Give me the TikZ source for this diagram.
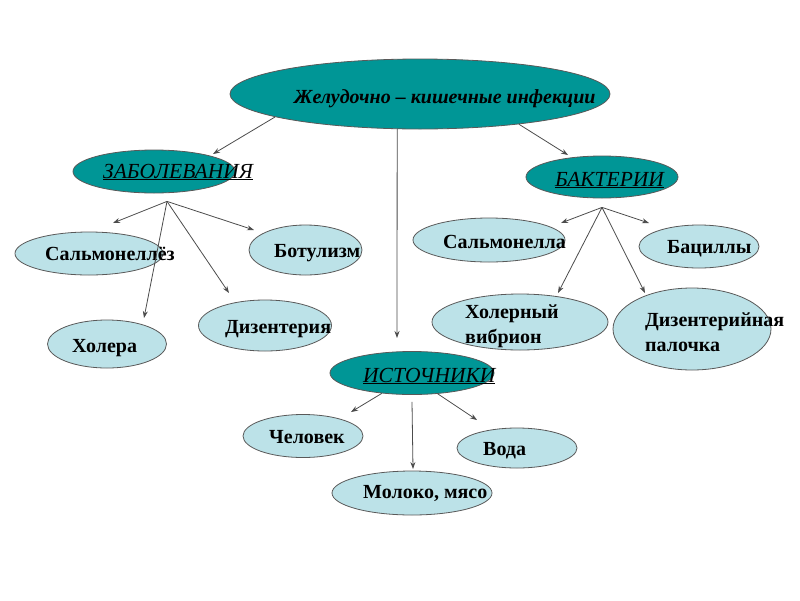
\documentclass[tikz,border=0pt]{standalone}
\usepackage{fontspec}
\setmainfont{Liberation Serif}
\usetikzlibrary{positioning, shapes.geometric, arrows.meta}
\definecolor{tealfill}{RGB}{0,150,150}
\definecolor{icefill}{RGB}{188,226,232}

\begin{document}
\begin{tikzpicture}[x=1pt, y=-1pt]
                \tikzstyle{dark} = [ellipse, draw=black!65, line width=0.8pt, fill=tealfill, inner sep=0pt]
                \tikzstyle{light} = [ellipse, draw=black!65, line width=0.8pt, fill=icefill, inner sep=0pt]
                \tikzstyle{word} = [anchor=base west, inner sep=0pt, font=\fontsize{20}{25}\selectfont\bfseries]
                \tikzstyle{head} = [anchor=base west, inner sep=0pt, font=\fontsize{21.5}{25}\selectfont\itshape]
                \tikzstyle{arr} = [draw=black!70, line width=0.8pt, -{Stealth[length=7pt, width=5pt]}]

                \useasboundingbox[fill=white] (0,0) rectangle (800,600);

                % Top ellipse and the three groups
                \node[dark, minimum width=380pt, minimum height=70pt] (main) at (420,94) {};
                \node[word, font=\fontsize{20}{25}\selectfont\bfseries\itshape] (mainT) at (294,103) {Желудочно – кишечные инфекции};
                \node[dark, minimum width=162pt, minimum height=43pt] (zab) at (154,171.5) {};
                \node[head] (zabT) at (103,178) {\underline{ЗАБОЛЕВАНИЯ}};
                \node[dark, minimum width=152pt, minimum height=42pt] (bak) at (602,177) {};
                \node[head] (bakT) at (555,186) {\underline{БАКТЕРИИ}};
                \node[dark, minimum width=164pt, minimum height=43pt] (ist) at (412,373) {};
                \node[head] (istT) at (363,382) {\underline{ИСТОЧНИКИ}};

                % Left group (diseases)
                \node[light, minimum width=148pt, minimum height=43pt] (salmz) at (89,253.5) {};
                \node[word] (salmzT) at (45,260) {Сальмонеллёз};
                \node[light, minimum width=113pt, minimum height=50pt] (botul) at (305.5,250) {};
                \node[word] (botulT) at (274,257) {Ботулизм};
                \node[light, minimum width=119pt, minimum height=48pt] (holera) at (107,344) {};
                \node[word] (holeraT) at (72,352) {Холера};
                \node[light, minimum width=133pt, minimum height=51pt] (dizent) at (265,325.5) {};
                \node[word] (dizentT) at (225,333) {Дизентерия};

                % Right group (bacteria)
                \node[light, minimum width=152pt, minimum height=44pt] (salmla) at (489,240) {};
                \node[word] (salmlaT) at (443,248) {Сальмонелла};
                \node[light, minimum width=120pt, minimum height=43pt] (bacil) at (699,246.5) {};
                \node[word] (bacilT) at (667,253) {Бациллы};
                \node[light, minimum width=176pt, minimum height=56pt] (vibrion) at (520,322) {};
                \node[word, align=left] (vibrionT) at (465,343) {Холерный\\вибрион};
                \node[light, minimum width=158pt, minimum height=82pt] (palochka) at (692,329) {};
                \node[word, align=left] (palochkaT) at (645,351) {Дизентерийная\\палочка};

                % Bottom group (sources)
                \node[light, minimum width=120pt, minimum height=43pt] (chelovek) at (303,436) {};
                \node[word] (chelovekT) at (269,443) {Человек};
                \node[light, minimum width=120pt, minimum height=40pt] (voda) at (517,448) {};
                \node[word] (vodaT) at (483,455) {Вода};
                \node[light, minimum width=160pt, minimum height=44pt] (moloko) at (412,493) {};
                \node[word] (molokoT) at (363,498) {Молоко, мясо};

                % Hubs and arrow ends
                \coordinate (zabH) at ([xshift=13pt, yshift=-8pt]zab.south);
                \coordinate (bakH) at ([yshift=-9pt]bak.south);
                \coordinate (zabIn) at (213,154);
                \coordinate (bakIn) at (568,155);
                \coordinate (istIn) at (397,338);
                \coordinate (salmzIn) at (113,223);
                \coordinate (botulIn) at (254,230);
                \coordinate (holeraIn) at (144,318);
                \coordinate (dizentIn) at (229,293);
                \coordinate (salmlaIn) at (561,223);
                \coordinate (bacilIn) at (649,223);
                \coordinate (vibrionIn) at (558,293);
                \coordinate (palochkaIn) at (645,293);
                \coordinate (chelovekIn) at (351,412);
                \coordinate (vodaIn) at (477,420);
                \coordinate (molokoIn) at (413,469);

                % Arrows
                \draw[arr] (main.189) -- (zabIn);
                \draw[arr] (main.343) -- (bakIn);
                \draw[arr] (main.237) -- (istIn);
                \draw[arr] (zabH) -- (salmzIn);
                \draw[arr] (zabH) -- (botulIn);
                \draw[arr] (zabH) -- (holeraIn);
                \draw[arr] (zabH) -- (dizentIn);
                \draw[arr] (bakH) -- (salmlaIn);
                \draw[arr] (bakH) -- (bacilIn);
                \draw[arr] (bakH) -- (vibrionIn);
                \draw[arr] (bakH) -- (palochkaIn);
                \draw[arr] (ist.214) -- (chelovekIn);
                \draw[arr] (ist.321) -- (vodaIn);
                \draw[arr] ([yshift=-7pt]ist.south) -- (molokoIn);
            \end{tikzpicture}
\end{document}
